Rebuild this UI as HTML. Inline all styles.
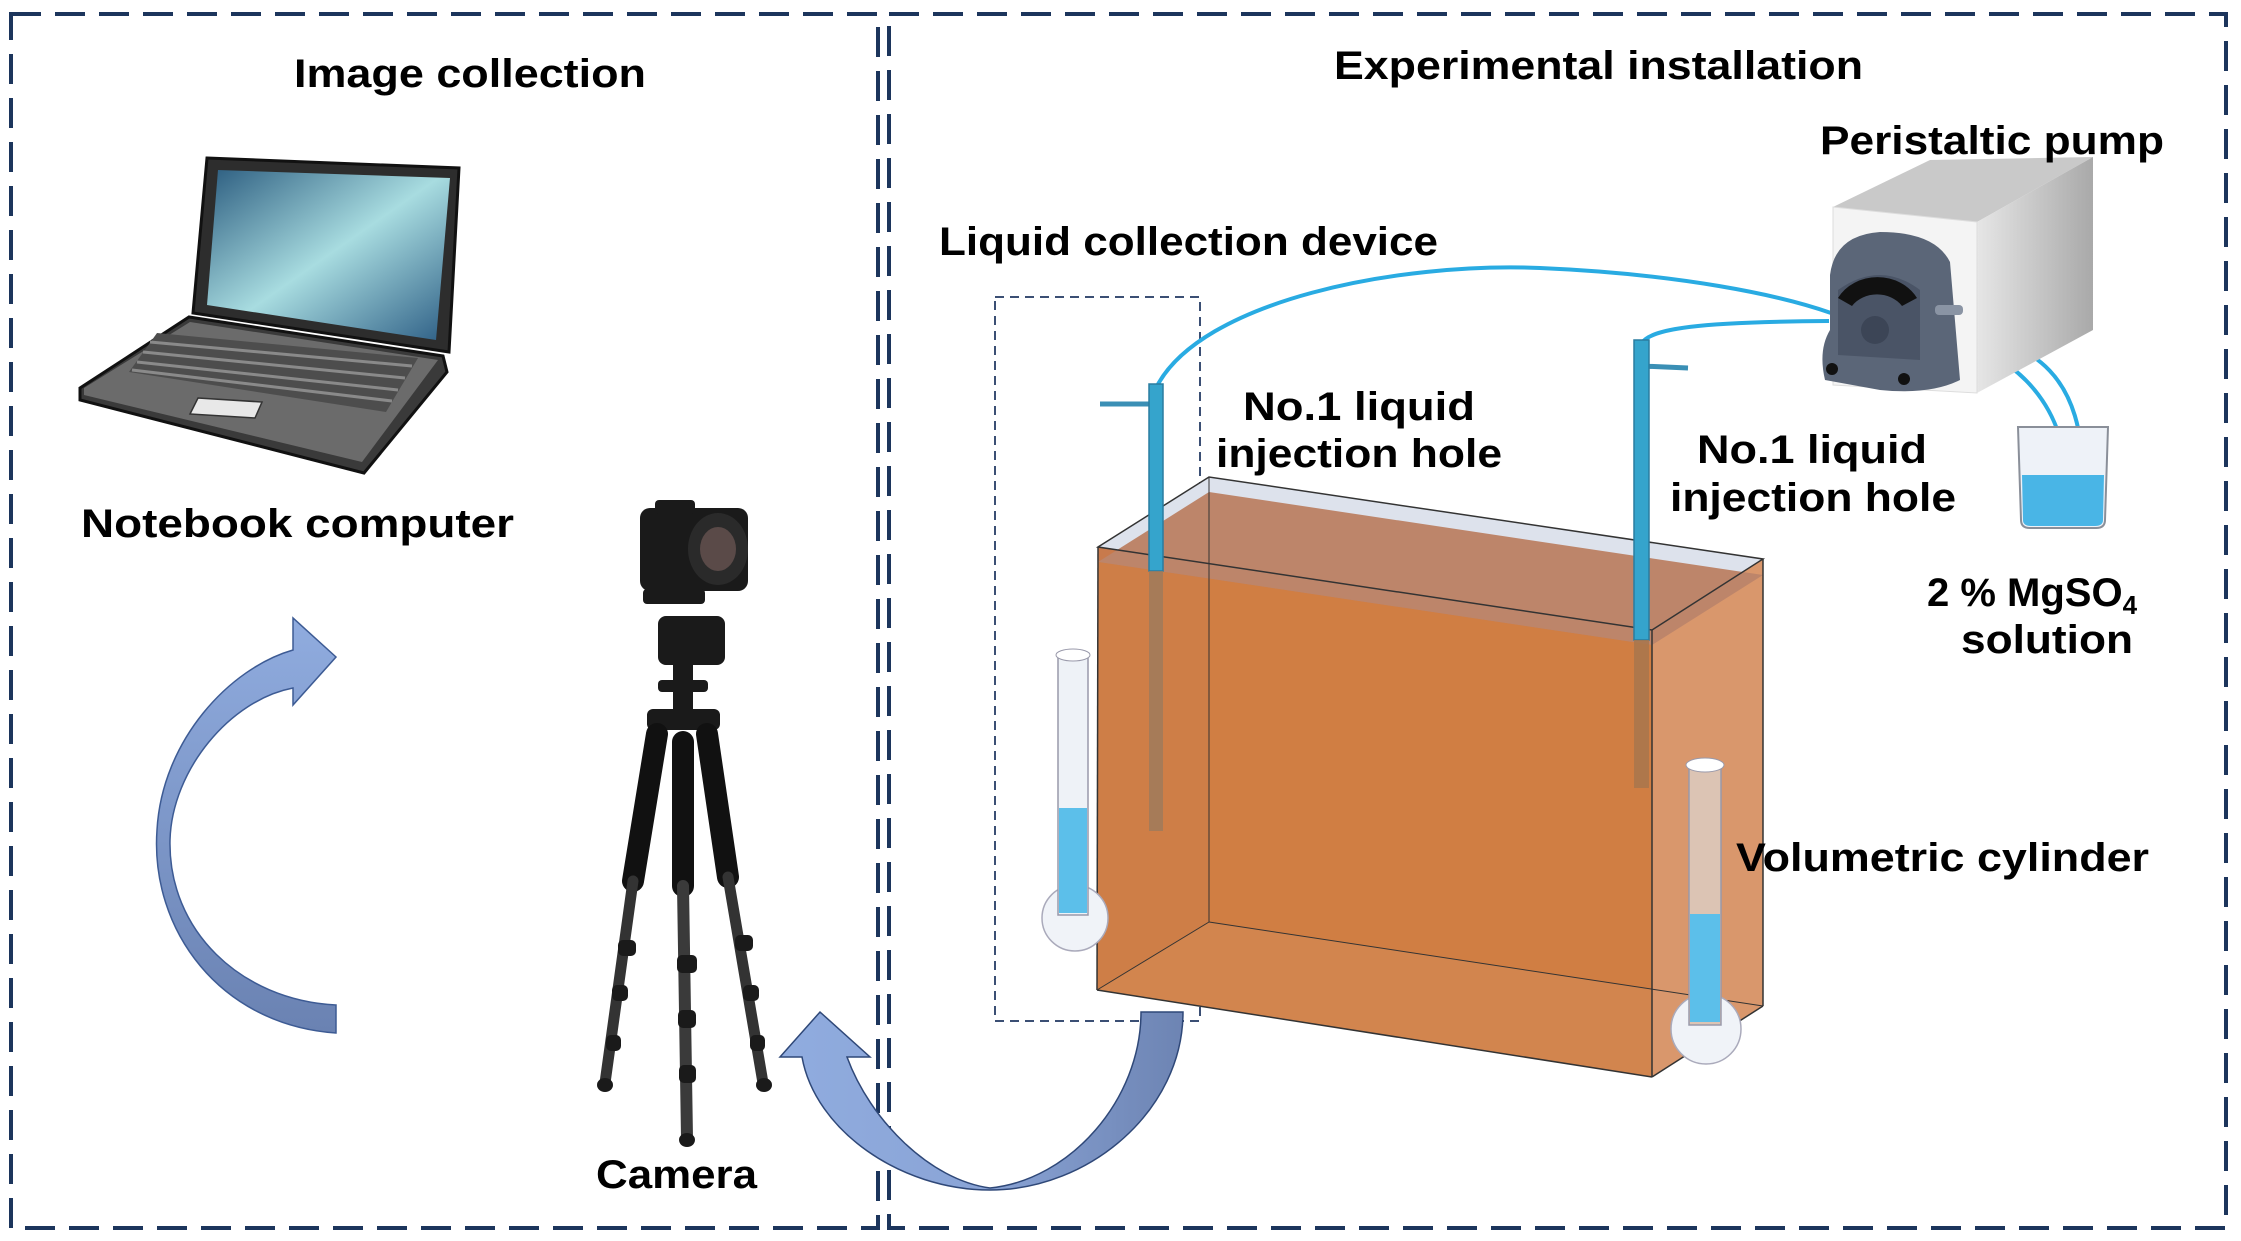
<!DOCTYPE html>
<html><head><meta charset="utf-8"><style>
html,body{margin:0;padding:0;background:#fff;}
svg{display:block;}
text{font-family:"Liberation Sans",sans-serif;font-weight:bold;fill:#000;font-size:40px;}
</style></head><body>
<svg width="2241" height="1241" viewBox="0 0 2241 1241" xmlns="http://www.w3.org/2000/svg">
<defs>
<linearGradient id="scr" x1="0" y1="0" x2="1" y2="1">
<stop offset="0" stop-color="#2c5d80"/><stop offset="0.5" stop-color="#a8dce0"/><stop offset="1" stop-color="#2d5e85"/></linearGradient>
<linearGradient id="arr1" x1="0" y1="0" x2="0" y2="1">
<stop offset="0" stop-color="#90acdf"/><stop offset="1" stop-color="#6a82b2"/></linearGradient>
<linearGradient id="arr2" x1="0" y1="0" x2="1" y2="0">
<stop offset="0" stop-color="#90acdf"/><stop offset="0.5" stop-color="#8aa4d6"/><stop offset="1" stop-color="#6d84b3"/></linearGradient>
<linearGradient id="pump" x1="0" y1="0" x2="1" y2="0">
<stop offset="0" stop-color="#e6e6e6"/><stop offset="1" stop-color="#a9a9a9"/></linearGradient>
</defs>

<!-- panels -->
<rect x="11" y="14" width="867" height="1214" fill="none" stroke="#1c355c" stroke-width="4" stroke-dasharray="30,14"/>
<rect x="889" y="14" width="1337" height="1214" fill="none" stroke="#1c355c" stroke-width="4" stroke-dasharray="30,14"/>

<!-- titles -->
<text x="294" y="87" textLength="352" lengthAdjust="spacingAndGlyphs">Image collection</text>
<text x="1334" y="79" textLength="529" lengthAdjust="spacingAndGlyphs">Experimental installation</text>

<!-- laptop -->
<polygon points="80,388 189,317 443,356 447,372 364,473 80,400" fill="#3a3a3a" stroke="#111" stroke-width="3"/>
<polygon points="84,388 190,322 438,360 362,462 84,395" fill="#6b6b6b"/>
<polygon points="157,333 418,358 386,412 129,372" fill="#4d4d4d"/>
<g stroke="#8a8a8a" stroke-width="3">
<line x1="150" y1="342" x2="412" y2="366"/><line x1="143" y1="352" x2="405" y2="378"/>
<line x1="137" y1="362" x2="398" y2="390"/><line x1="132" y1="370" x2="392" y2="401"/></g>
<polygon points="198,398 262,402 255,418 190,414" fill="#e8e8e8" stroke="#333" stroke-width="1.5"/>
<polygon points="207,158 459,168 449,352 193,313" fill="#2d2d2d" stroke="#111" stroke-width="3"/>
<polygon points="218,170 450,178 436,340 207,305" fill="url(#scr)"/>
<text x="81" y="537" textLength="433" lengthAdjust="spacingAndGlyphs">Notebook computer</text>

<!-- left curved arrow -->
<path d="M336,1033 C220,1025 150,930 157,830 C162,740 230,668 293,650 L293,618 L336,657 L293,705 L293,688 C230,700 172,770 170,840 C168,930 240,1000 336,1005 Z" fill="url(#arr1)" stroke="#3d5b94" stroke-width="1.5"/>

<!-- camera + tripod -->
<g fill="#1a1a1a">
<rect x="640" y="508" width="108" height="83" rx="10"/>
<rect x="655" y="500" width="40" height="14" rx="4"/>
<ellipse cx="718" cy="549" rx="30" ry="36" fill="#2a2a2a"/>
<ellipse cx="718" cy="549" rx="18" ry="22" fill="#5a4a48"/>
<rect x="643" y="589" width="62" height="15" rx="4"/>
<rect x="658" y="616" width="67" height="49" rx="8"/>
<rect x="673" y="665" width="20" height="44"/>
<rect x="658" y="680" width="50" height="12" rx="4"/>
<rect x="647" y="709" width="73" height="21" rx="6"/>
</g>
<g stroke-linecap="round">
<line x1="657" y1="734" x2="633" y2="881" stroke="#111" stroke-width="22"/>
<line x1="683" y1="742" x2="683" y2="886" stroke="#111" stroke-width="22"/>
<line x1="707" y1="734" x2="728" y2="877" stroke="#111" stroke-width="22"/>
<line x1="633" y1="881" x2="605" y2="1083" stroke="#333" stroke-width="11"/>
<line x1="683" y1="886" x2="687" y2="1138" stroke="#3a3a3a" stroke-width="12"/>
<line x1="728" y1="877" x2="763" y2="1083" stroke="#333" stroke-width="11"/>
</g>
<g fill="#1a1a1a">
<rect x="618" y="940" width="18" height="16" rx="5"/><rect x="612" y="985" width="16" height="16" rx="5"/><rect x="606" y="1035" width="15" height="16" rx="5"/>
<rect x="677" y="955" width="20" height="18" rx="5"/><rect x="678" y="1010" width="18" height="18" rx="5"/><rect x="679" y="1065" width="17" height="18" rx="5"/>
<rect x="735" y="935" width="18" height="16" rx="5"/><rect x="743" y="985" width="16" height="16" rx="5"/><rect x="750" y="1035" width="15" height="16" rx="5"/>
<ellipse cx="605" cy="1085" rx="8" ry="7"/><ellipse cx="687" cy="1140" rx="8" ry="7"/><ellipse cx="764" cy="1085" rx="8" ry="7"/>
</g>
<text x="596" y="1188" textLength="161" lengthAdjust="spacingAndGlyphs">Camera</text>

<!-- liquid collection dashed box -->
<rect x="995" y="297" width="205" height="724" fill="none" stroke="#3b4f74" stroke-width="2" stroke-dasharray="9,6"/>
<text x="939" y="255" textLength="499" lengthAdjust="spacingAndGlyphs">Liquid collection device</text>

<!-- tank -->
<polygon points="1209,477 1763,559 1763,1006 1209,922" fill="#cf7a3f"/>
<polygon points="1098,547 1209,477 1209,922 1097,990" fill="#c87a4c"/>
<polygon points="1097,990 1209,922 1763,1006 1652,1077" fill="#d7956a"/>
<polygon points="1652,630 1763,559 1763,1006 1652,1077" fill="#d9976c"/>
<polygon points="1098,547 1209,477 1763,559 1652,630" fill="#dde2ec"/>
<polygon points="1098,562 1209,492 1763,575 1652,645" fill="#bd856a"/>
<polygon points="1098,562 1652,645 1652,1077 1097,990" fill="#d08045" opacity="0.75"/>
<g fill="none" stroke="#333" stroke-width="1.5">
<polygon points="1098,547 1209,477 1763,559 1652,630"/>
<line x1="1098" y1="547" x2="1097" y2="990"/><line x1="1652" y1="630" x2="1652" y2="1077"/>
<line x1="1763" y1="559" x2="1763" y2="1006"/><line x1="1097" y1="990" x2="1652" y2="1077"/>
<line x1="1652" y1="1077" x2="1763" y2="1006"/>
<line x1="1209" y1="477" x2="1209" y2="922" stroke-width="1"/><line x1="1209" y1="922" x2="1763" y2="1006" stroke-width="1"/><line x1="1097" y1="990" x2="1209" y2="922" stroke-width="1"/>
</g>

<!-- tubes -->
<g fill="none" stroke="#29abe2" stroke-width="4">
<path d="M1156,388 C1200,300 1400,262 1540,268 C1680,274 1780,295 1831,313"/>
<path d="M1641,344 C1650,328 1700,322 1829,321"/>
<path d="M1940,337 C2010,350 2067,400 2067,488"/>
<path d="M1945,331 C2040,338 2083,380 2083,480"/>
</g>
<line x1="1100" y1="404" x2="1156" y2="404" stroke="#3a8fb5" stroke-width="5"/>
<line x1="1641" y1="366" x2="1688" y2="368" stroke="#3a8fb5" stroke-width="5"/>
<rect x="1149" y="384" width="14" height="187" fill="#35a4cc" stroke="#2a7da0" stroke-width="1.5"/>
<rect x="1149" y="571" width="14" height="260" fill="#9c7a5c" opacity="0.8"/>
<rect x="1634" y="340" width="15" height="300" fill="#35a4cc" stroke="#2a7da0" stroke-width="1.5"/>
<rect x="1634" y="640" width="15" height="148" fill="#a8754c" opacity="0.85"/>

<!-- cylinders -->
<circle cx="1075" cy="918" r="33" fill="#f0f3f8" stroke="#aab" stroke-width="1.5"/>
<rect x="1058" y="655" width="30" height="260" fill="#eef2f7" stroke="#99a" stroke-width="1.5"/>
<ellipse cx="1073" cy="655" rx="17" ry="6" fill="#fff" stroke="#99a"/>
<rect x="1059" y="808" width="28" height="105" fill="#5cbfea"/>
<circle cx="1706" cy="1029" r="35" fill="#f0f3f8" stroke="#aab" stroke-width="1.5"/>
<rect x="1689" y="765" width="32" height="260" fill="#dcc4b4" stroke="#99a" stroke-width="1.5"/>
<ellipse cx="1705" cy="765" rx="19" ry="7" fill="#fff" stroke="#99a"/>
<rect x="1690" y="914" width="30" height="108" fill="#5cbfea"/>

<!-- pump -->
<polygon points="1833,207 1930,160 2093,157 1977,222" fill="#c9c9c9"/>
<polygon points="1977,222 2093,157 2093,330 1977,393" fill="url(#pump)"/>
<polygon points="1833,207 1977,222 1977,393 1833,385" fill="#f4f4f4" stroke="#ddd"/>
<path d="M1830,275 Q1835,235 1880,232 Q1935,232 1950,262 L1960,380 Q1930,395 1880,390 L1825,380 Q1818,350 1830,330 Z" fill="#5b6678"/>
<path d="M1838,290 Q1880,260 1920,290 L1920,360 L1838,355 Z" fill="#4a5466"/>
<path d="M1838,298 A45,40 0 0 1 1917,298 L1902,306 A30,26 0 0 0 1852,306 Z" fill="#111"/>
<circle cx="1875" cy="330" r="14" fill="#3c4556"/>
<rect x="1935" y="305" width="28" height="10" rx="4" fill="#8a94a4"/>
<circle cx="1832" cy="369" r="6" fill="#111"/><circle cx="1904" cy="379" r="6" fill="#111"/>

<!-- beaker -->
<path d="M2018,427 L2108,427 L2105,520 Q2105,528 2096,528 L2030,528 Q2021,528 2021,520 Z" fill="#eef2f8" stroke="#8a8f99" stroke-width="2"/>
<path d="M2022,475 L2104,475 L2103,520 Q2103,526 2095,526 L2031,526 Q2023,526 2023,520 Z" fill="#49b5e6"/>
<text x="1820" y="154" textLength="344" lengthAdjust="spacingAndGlyphs">Peristaltic pump</text>

<!-- labels -->
<text x="1243" y="420" textLength="232" lengthAdjust="spacingAndGlyphs">No.1 liquid</text>
<text x="1216" y="467" textLength="286" lengthAdjust="spacingAndGlyphs">injection hole</text>
<text x="1697" y="463" textLength="230" lengthAdjust="spacingAndGlyphs">No.1 liquid</text>
<text x="1670" y="511" textLength="286" lengthAdjust="spacingAndGlyphs">injection hole</text>
<text x="1927" y="606">2 % MgSO<tspan font-size="26" dy="8">4</tspan></text>
<text x="1961" y="653" textLength="172" lengthAdjust="spacingAndGlyphs">solution</text>
<text x="1736" y="871" textLength="413" lengthAdjust="spacingAndGlyphs">Volumetric cylinder</text>

<!-- bottom arrow -->
<path d="M1141,1012 L1183,1012 C1183,1110 1090,1190 990,1190 C900,1190 815,1130 802,1057 L780,1057 L820,1012 L870,1057 L847,1057 C870,1120 930,1180 990,1188 C1070,1180 1141,1100 1141,1012 Z" fill="url(#arr2)" stroke="#2f4878" stroke-width="1.5"/>
</svg>
</body></html>
